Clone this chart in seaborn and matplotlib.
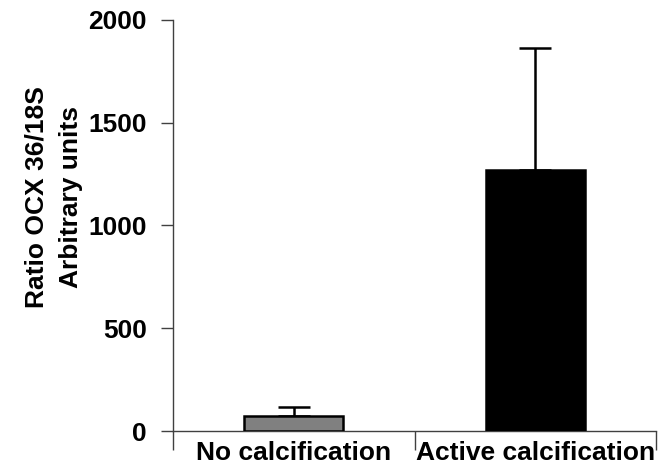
import matplotlib
matplotlib.use("Agg")
import matplotlib.pyplot as plt
import seaborn as sns
import pandas as pd

categories = ["No calcification", "Active calcification"]
values = [73, 1270]
errors = [44, 594]
bar_colors = ["#808080", "#000000"]
y_ticks = [0, 500, 1000, 1500, 2000]
y_label = "Ratio OCX 36/18S\nArbitrary units"

sns.set_theme(style="white")
plt.rcParams["font.family"] = ["Liberation Sans", "DejaVu Sans"]
plt.rcParams["font.weight"] = "bold"

df = pd.DataFrame({"cat": categories, "val": values})
fig = plt.figure(figsize=(6.66, 4.65), dpi=100)
ax = fig.add_axes([173/666, (465-431)/465, (656-173)/666, (431-20)/465])

sns.barplot(data=df, x="cat", y="val", hue="cat", palette=bar_colors,
            order=categories, hue_order=categories, width=0.41,
            edgecolor="black", linewidth=1.8, legend=False, ax=ax, zorder=3)
ax.errorbar(range(len(categories)), values, yerr=[[0]*len(errors), errors],
            fmt="none", ecolor="black", elinewidth=1.8, capsize=11.5, capthick=1.8, zorder=2)

fs = 19
ax.set_ylim(0, 2000)
ax.set_xlim(-0.5, 1.5)
ax.set_yticks(y_ticks)
ax.set_yticklabels([str(t) for t in y_ticks], fontsize=fs, fontweight="bold", color="black")
ax.set_xticks(range(len(categories)))
ax.set_xticklabels(categories, fontsize=fs, fontweight="bold", color="black")
ax.set_xticks([-0.5, 0.5, 1.5], minor=True)
ax.tick_params(axis="x", which="major", length=0, pad=7)
ax.tick_params(axis="x", which="minor", length=14, width=1, color="#404040", direction="out", bottom=True)
ax.tick_params(axis="y", which="major", length=9, width=1, color="#404040", direction="out", left=True, pad=10)
ax.set_xlabel("")
ax.set_ylabel(y_label, fontsize=fs, fontweight="bold", linespacing=1.55, color="black")
ax.yaxis.set_label_coords(-0.187, 0.569)
for s in ["top", "right"]:
    ax.spines[s].set_visible(False)
for s in ["left", "bottom"]:
    ax.spines[s].set_color("#404040")
    ax.spines[s].set_linewidth(1)

fig.savefig("out.png", dpi=100)
